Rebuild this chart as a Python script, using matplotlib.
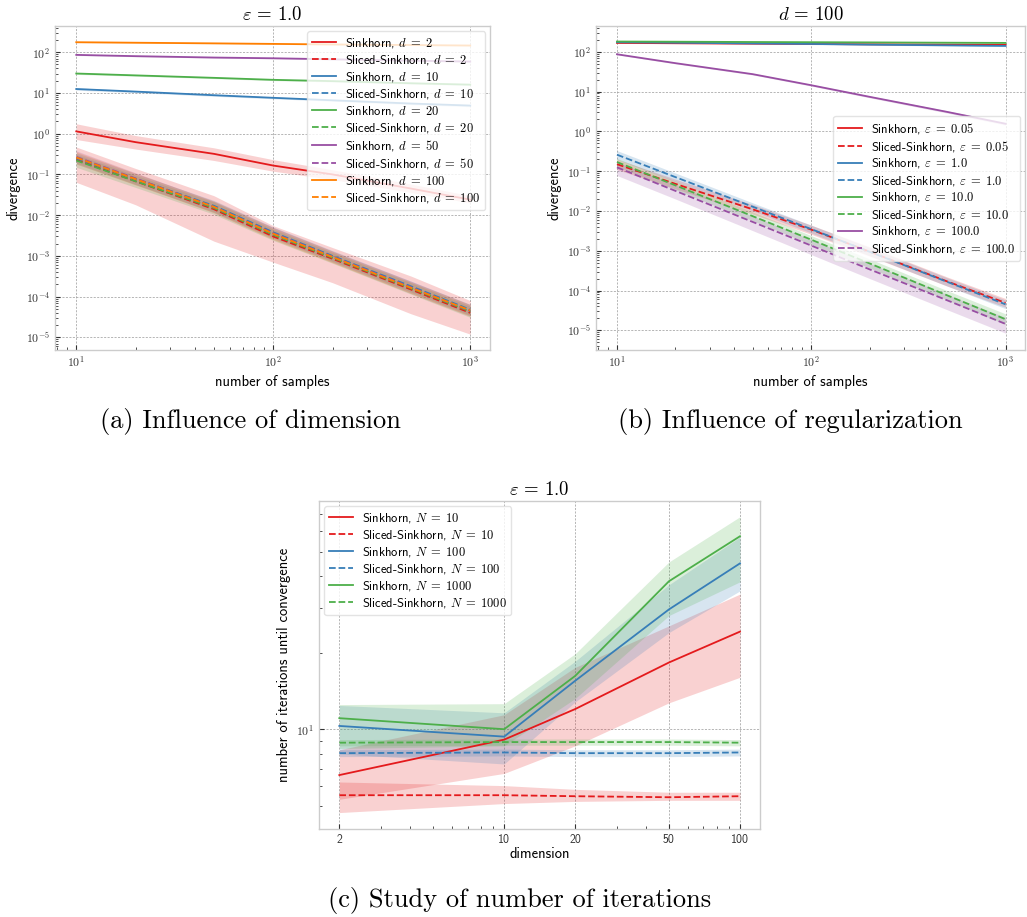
import numpy as np
import matplotlib
matplotlib.use("Agg")
import matplotlib.pyplot as plt
from matplotlib.ticker import FuncFormatter, FixedLocator, LogLocator, NullFormatter

# ---------------- data ----------------
samples = [10, 20, 50, 100, 200, 500, 1000]

# (a) influence of dimension, eps = 1.0
dims_a = [2, 10, 20, 50, 100]
a_sink = [
    [1.14, 0.62, 0.32, 0.165, 0.10, 0.045, 0.024],
    [12.5, 10.8, 8.8, 7.6, 6.6, 5.5, 4.9],
    [30.0, 27.0, 23.5, 21.0, 19.5, 17.3, 16.0],
    [86.0, 80.0, 74.0, 71.0, 67.0, 62.0, 59.0],
    [176.0, 171.0, 165.0, 160.0, 155.0, 150.0, 146.0],
]
a_sink_lo = [
    [0.72, 0.42, 0.22, 0.12, 0.075, 0.036, 0.020],
    [11.7, 10.2, 8.3, 7.2, 6.3, 5.2, 4.6],
    [28.5, 25.8, 22.5, 20.1, 18.7, 16.6, 15.3],
    [83.0, 77.5, 71.8, 69.0, 65.0, 60.2, 57.3],
    [171.0, 166.5, 161.0, 156.0, 151.0, 146.0, 142.0],
]
a_sink_hi = [
    [1.75, 0.90, 0.45, 0.23, 0.13, 0.058, 0.030],
    [13.3, 11.4, 9.3, 8.0, 6.9, 5.8, 5.2],
    [31.5, 28.2, 24.5, 21.9, 20.3, 18.0, 16.7],
    [89.0, 82.5, 76.2, 73.0, 69.0, 63.8, 60.7],
    [181.0, 175.5, 169.0, 164.0, 159.0, 154.0, 150.0],
]
a_sliced = [
    [0.23, 0.068, 0.014, 3.0e-3, 8.5e-4, 1.5e-4, 4.0e-5],
    [0.25, 0.078, 0.017, 3.8e-3, 1.0e-3, 1.8e-4, 4.8e-5],
    [0.22, 0.068, 0.015, 3.3e-3, 9.0e-4, 1.6e-4, 4.3e-5],
    [0.27, 0.080, 0.016, 3.6e-3, 9.6e-4, 1.7e-4, 4.5e-5],
    [0.26, 0.077, 0.016, 3.5e-3, 9.4e-4, 1.65e-4, 4.6e-5],
]
a_sliced_lo = [
    [0.064, 0.018, 2.3e-3, 7.0e-4, 2.2e-4, 3.8e-5, 1.2e-5],
    [0.18, 0.056, 0.012, 2.8e-3, 7.4e-4, 1.3e-4, 3.5e-5],
    [0.15, 0.048, 0.0105, 2.4e-3, 6.6e-4, 1.15e-4, 3.1e-5],
    [0.19, 0.057, 0.0115, 2.6e-3, 7.0e-4, 1.2e-4, 3.3e-5],
    [0.18, 0.055, 0.0115, 2.5e-3, 6.8e-4, 1.2e-4, 3.3e-5],
]
a_sliced_hi = [
    [0.47, 0.14, 0.030, 5.5e-3, 1.6e-3, 3.2e-4, 8.0e-5],
    [0.34, 0.105, 0.023, 5.1e-3, 1.35e-3, 2.4e-4, 6.5e-5],
    [0.31, 0.095, 0.021, 4.5e-3, 1.2e-3, 2.2e-4, 5.8e-5],
    [0.38, 0.11, 0.022, 5.0e-3, 1.3e-3, 2.4e-4, 6.3e-5],
    [0.36, 0.107, 0.022, 4.9e-3, 1.3e-3, 2.3e-4, 6.4e-5],
]

# (b) influence of regularization, d = 100
eps_b = ["0.05", "1.0", "10.0", "100.0"]
b_sink = [
    [168.0, 165.0, 161.0, 158.0, 155.0, 152.0, 150.0],
    [175.0, 170.0, 163.0, 158.0, 152.0, 146.0, 141.0],
    [182.0, 180.0, 177.0, 175.0, 173.0, 170.0, 168.0],
    [87.0, 52.0, 27.5, 14.5, 7.4, 3.1, 1.56],
]
b_sink_lo = [
    [163.0, 160.0, 156.0, 153.0, 150.0, 147.0, 145.0],
    [170.0, 165.0, 158.0, 153.0, 147.0, 141.0, 136.0],
    [177.0, 175.0, 172.0, 170.0, 168.0, 165.0, 163.0],
    [84.0, 50.0, 26.3, 13.8, 7.0, 2.9, 1.45],
]
b_sink_hi = [
    [173.0, 170.0, 166.0, 163.0, 160.0, 157.0, 155.0],
    [180.0, 175.0, 168.0, 163.0, 157.0, 151.0, 146.0],
    [187.0, 185.0, 182.0, 180.0, 178.0, 175.0, 173.0],
    [90.0, 54.0, 28.7, 15.2, 7.8, 3.3, 1.67],
]
b_sliced = [
    [0.15, 0.048, 0.011, 3.4e-3, 9.5e-4, 1.7e-4, 4.9e-5],
    [0.26, 0.071, 0.0128, 3.5e-3, 9.4e-4, 1.66e-4, 4.5e-5],
    [0.17, 0.044, 7.4e-3, 1.9e-3, 4.8e-4, 7.6e-5, 1.9e-5],
    [0.125, 0.032, 5.3e-3, 1.35e-3, 3.4e-4, 5.7e-5, 1.45e-5],
]
b_sliced_lo = [
    [0.11, 0.036, 8.3e-3, 2.6e-3, 7.3e-4, 1.3e-4, 3.8e-5],
    [0.20, 0.055, 0.010, 2.8e-3, 7.5e-4, 1.3e-4, 3.5e-5],
    [0.13, 0.034, 5.7e-3, 1.45e-3, 3.7e-4, 5.8e-5, 1.4e-5],
    [0.078, 0.020, 3.2e-3, 8.0e-4, 2.0e-4, 3.3e-5, 8.5e-6],
]
b_sliced_hi = [
    [0.20, 0.063, 0.0145, 4.4e-3, 1.25e-3, 2.2e-4, 6.3e-5],
    [0.33, 0.090, 0.016, 4.4e-3, 1.2e-3, 2.1e-4, 5.8e-5],
    [0.21, 0.056, 9.5e-3, 2.4e-3, 6.2e-4, 1.0e-4, 2.6e-5],
    [0.17, 0.045, 7.5e-3, 1.9e-3, 4.8e-4, 8.0e-5, 2.1e-5],
]

# (c) number of iterations, eps = 1.0
dims_c = [2, 10, 20, 50, 100]
n_c = [10, 100, 1000]
c_sink = [
    [6.6, 9.1, 12.0, 18.3, 24.2],
    [10.3, 9.35, 15.5, 29.6, 44.9],
    [11.05, 10.0, 16.2, 38.2, 57.4],
]
c_sink_lo = [
    [5.3, 6.7, 8.6, 12.7, 16.0],
    [8.0, 7.3, 12.8, 24.0, 35.0],
    [8.4, 8.6, 13.2, 28.0, 38.0],
]
c_sink_hi = [
    [8.3, 11.4, 17.5, 25.5, 34.0],
    [12.4, 11.6, 18.5, 37.0, 57.0],
    [12.5, 12.6, 19.8, 45.5, 68.5],
]
c_sliced = [
    [5.5, 5.5, 5.45, 5.4, 5.45],
    [8.05, 8.1, 8.05, 8.05, 8.1],
    [8.85, 8.9, 8.9, 8.9, 8.85],
]
c_sliced_lo = [
    [4.7, 5.1, 5.2, 5.25, 5.25],
    [7.8, 7.85, 7.8, 7.8, 7.85],
    [8.6, 8.65, 8.65, 8.65, 8.6],
]
c_sliced_hi = [
    [6.2, 6.0, 5.8, 5.65, 5.65],
    [8.3, 8.35, 8.3, 8.3, 8.35],
    [9.1, 9.15, 9.15, 9.15, 9.1],
]

colors = ["#e41a1c", "#377eb8", "#4daf4a", "#984ea3", "#ff7f00"]

# ---------------- style ----------------
plt.rcParams["font.family"] = ["cmss10", "DejaVu Sans"]
plt.rcParams["mathtext.fontset"] = "cm"
plt.rcParams["axes.unicode_minus"] = False
plt.rcParams["axes.formatter.use_mathtext"] = True

FS = 10.5     # axis labels
TFS = 8.5     # tick labels
LFS = 9.0     # legend


def pow10(v, pos):
    return r"$10^{%d}$" % int(round(np.log10(v)))


def style_ax(ax):
    for s in ax.spines.values():
        s.set_color("#cccccc")
        s.set_linewidth(1.0)
    ax.tick_params(which="both", direction="in", colors="#333333", labelsize=TFS,
                   top=False, right=False)
    ax.tick_params(which="major", length=3.5, width=0.8)
    ax.tick_params(which="minor", length=2, width=0.6)
    ax.grid(True, which="major", ls=(0, (3, 2)), lw=0.5, color="#999999")
    ax.set_axisbelow(True)


def band(ax, x, m, lo, hi, c, ls, lab):
    ax.fill_between(x, lo, hi, color=c, alpha=0.2, lw=0)
    ax.plot(x, m, color=c, ls=ls, lw=1.3, label=lab)


def legend(ax, loc):
    ax.legend(loc=loc, fontsize=LFS, framealpha=0.8, edgecolor="#dddddd",
              labelspacing=0.24, handlelength=1.9, handletextpad=0.7,
              borderpad=0.4, borderaxespad=0.4)


fig = plt.figure(figsize=(10.27, 9.17), dpi=100)
W, H = 1027.0, 917.0


def add_ax(l, r, t, b):
    return fig.add_axes([l / W, 1 - b / H, (r - l) / W, (b - t) / H])


# (a)
ax = add_ax(55, 490, 26, 350)
for i, d in enumerate(dims_a):
    band(ax, samples, a_sink[i], a_sink_lo[i], a_sink_hi[i], colors[i], "-",
         r"Sinkhorn, $d\;=\;%d$" % d)
    band(ax, samples, a_sliced[i], a_sliced_lo[i], a_sliced_hi[i], colors[i], "--",
         r"Sliced-Sinkhorn, $d\;=\;%d$" % d)
ax.set_xscale("log")
ax.set_yscale("log")
ax.set_xlim(7.8, 1260)
ax.set_ylim(4.9e-6, 440)
ax.yaxis.set_major_locator(FixedLocator([1e-5, 1e-4, 1e-3, 1e-2, 1e-1, 1, 10, 100]))
ax.yaxis.set_minor_locator(LogLocator(base=10, subs=np.arange(2, 10), numticks=20))
ax.xaxis.set_major_formatter(FuncFormatter(pow10))
ax.yaxis.set_major_formatter(FuncFormatter(pow10))
ax.yaxis.set_minor_formatter(NullFormatter())
ax.set_xlabel("number of samples", fontsize=FS)
ax.set_ylabel("divergence", fontsize=FS)
ax.set_title(r"$\varepsilon\,=\,1.0$", fontsize=13.5, pad=4)
style_ax(ax)
legend(ax, "upper right")

# (b)
ax = add_ax(596, 1025, 26, 350)
for i, e in enumerate(eps_b):
    band(ax, samples, b_sink[i], b_sink_lo[i], b_sink_hi[i], colors[i], "-",
         r"Sinkhorn, $\varepsilon\;=\;%s$" % e)
    band(ax, samples, b_sliced[i], b_sliced_lo[i], b_sliced_hi[i], colors[i], "--",
         r"Sliced-Sinkhorn, $\varepsilon\;=\;%s$" % e)
ax.set_xscale("log")
ax.set_yscale("log")
ax.set_xlim(7.8, 1260)
ax.set_ylim(3.2e-6, 447)
ax.yaxis.set_major_locator(FixedLocator([1e-5, 1e-4, 1e-3, 1e-2, 1e-1, 1, 10, 100]))
ax.yaxis.set_minor_locator(LogLocator(base=10, subs=np.arange(2, 10), numticks=20))
ax.xaxis.set_major_formatter(FuncFormatter(pow10))
ax.yaxis.set_major_formatter(FuncFormatter(pow10))
ax.yaxis.set_minor_formatter(NullFormatter())
ax.set_xlabel("number of samples", fontsize=FS)
ax.set_ylabel("divergence", fontsize=FS)
ax.set_title(r"$d\,=\,100$", fontsize=13.5, pad=4)
style_ax(ax)
legend(ax, "center right")

# (c)
ax = add_ax(319, 760, 501, 829)
for i, n in enumerate(n_c):
    band(ax, dims_c, c_sink[i], c_sink_lo[i], c_sink_hi[i], colors[i], "-",
         r"Sinkhorn, $N\;=\;%d$" % n)
    band(ax, dims_c, c_sliced[i], c_sliced_lo[i], c_sliced_hi[i], colors[i], "--",
         r"Sliced-Sinkhorn, $N\;=\;%d$" % n)
ax.set_xscale("log")
ax.set_yscale("log")
ax.set_xlim(1.64, 121.6)
ax.set_ylim(4.05, 79)
ax.xaxis.set_major_locator(FixedLocator(dims_c))
ax.xaxis.set_major_formatter(FuncFormatter(lambda v, p: "%d" % v))
ax.xaxis.set_minor_formatter(NullFormatter())
ax.yaxis.set_major_locator(FixedLocator([10]))
ax.yaxis.set_major_formatter(FuncFormatter(pow10))
ax.yaxis.set_minor_formatter(NullFormatter())
ax.set_xlabel("dimension", fontsize=FS, labelpad=1)
ax.set_ylabel("number of iterations until convergence", fontsize=FS)
ax.set_title(r"$\varepsilon\,=\,1.0$", fontsize=13.5, pad=4)
style_ax(ax)
legend(ax, "upper left")

# captions
fig.text(250 / W, 1 - 421 / H, "(a) Influence of dimension", ha="center", va="center",
         fontsize=19, family="cmr10")
fig.text(790 / W, 1 - 421 / H, "(b) Influence of regularization", ha="center", va="center",
         fontsize=19, family="cmr10")
fig.text(520 / W, 1 - 900 / H, "(c) Study of number of iterations", ha="center", va="center",
         fontsize=19, family="cmr10")

fig.savefig("out.png", dpi=100)
